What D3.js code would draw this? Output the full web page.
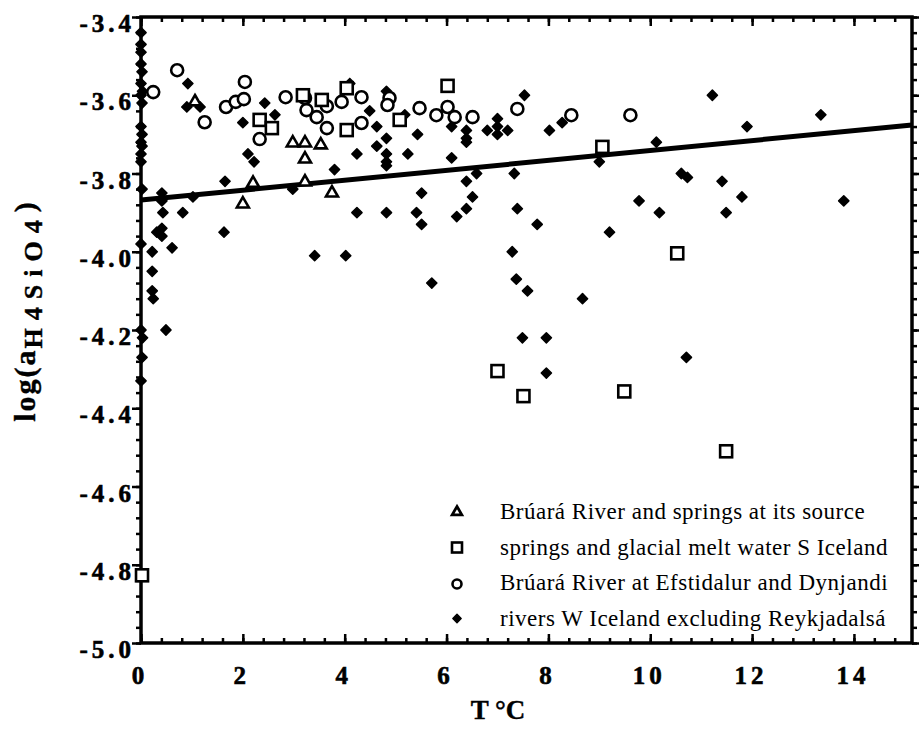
<!DOCTYPE html>
<html>
<head>
<meta charset="utf-8">
<style>
    body { margin: 0; background: #fff; }
    text { font-family: "Liberation Serif", "Times New Roman", serif; fill: #000; }
</style>
</head>
<body>
<svg id="chart" width="919" height="729"></svg>
<script src="https://cdn.jsdelivr.net/npm/d3@7"></script>
<script>
    // tick labels
    const xTicks = [0, 2, 4, 6, 8, 10, 12, 14]
    const yTicks = [-3.4, -3.6, -3.8, -4.0, -4.2, -4.4, -4.6, -4.8, -5.0]

    // series: [T °C, log(a H4SiO4)]
    const bruaraSprings = [
        [1.06, -3.617], [2.0, -3.878], [2.2, -3.825], [2.98, -3.722], [3.22, -3.722],
        [3.53, -3.727], [3.22, -3.763], [3.22, -3.822], [3.75, -3.85]
    ]
    const glacialSprings = [
        [2.33, -3.663], [2.57, -3.684], [3.18, -3.60], [3.55, -3.612], [4.04, -3.582],
        [4.04, -3.689], [5.08, -3.663], [6.02, -3.576], [9.06, -3.732], [10.53, -4.004],
        [7.0, -4.305], [7.51, -4.369], [9.49, -4.357], [11.49, -4.51], [0.02, -4.827]
    ]
    const efstidalur = [
        [0.71, -3.536], [0.24, -3.592], [1.25, -3.669], [2.04, -3.566], [1.67, -3.63],
        [1.86, -3.617], [2.02, -3.61], [2.33, -3.712], [2.84, -3.605], [3.22, -3.607],
        [3.25, -3.638], [3.45, -3.656], [3.65, -3.628], [3.94, -3.617], [4.33, -3.605],
        [4.33, -3.671], [4.88, -3.607], [4.84, -3.625], [5.47, -3.633], [5.8, -3.651],
        [6.02, -3.63], [6.16, -3.656], [6.51, -3.656], [7.39, -3.635], [8.45, -3.651],
        [9.61, -3.651], [3.65, -3.684]
    ]
    const riversW = [
        [0, -3.44], [0, -3.47], [0, -3.49], [0, -3.52], [0.02, -3.54], [0, -3.57], [0.03, -3.59],
        [0, -3.6], [0.02, -3.62], [0, -3.68], [0.02, -3.7], [0, -3.72], [0.02, -3.73], [0, -3.75],
        [0, -3.77], [0.02, -3.84], [0, -3.98], [0, -4.2], [0.03, -4.22], [0.02, -4.27], [0, -4.33],
        [0.22, -4.0], [0.22, -4.05], [0.22, -4.1], [0.24, -4.12], [0.49, -4.2], [0.61, -3.99],
        [0.41, -3.96], [0.41, -3.85], [0.41, -3.87], [0.43, -3.9], [0.82, -3.9], [0.31, -3.95],
        [0.41, -3.94], [1.02, -3.86], [1.63, -3.95], [3.41, -4.01], [4.02, -4.01], [0.92, -3.57],
        [0.9, -3.63], [1.16, -3.63], [2.0, -3.67], [2.43, -3.62], [2.1, -3.75], [2.22, -3.77],
        [1.65, -3.82], [2.98, -3.84], [2.63, -3.65],
        [4.1, -3.57], [4.49, -3.64], [4.63, -3.68], [4.82, -3.71], [4.63, -3.73], [4.82, -3.75],
        [4.82, -3.77], [4.82, -3.78], [4.24, -3.75], [3.8, -3.79], [5.43, -3.7], [5.24, -3.75],
        [4.82, -3.59], [5.18, -3.65], [6.1, -3.68], [6.1, -3.76], [6.39, -3.69], [6.39, -3.71],
        [6.39, -3.72], [6.8, -3.69], [7.0, -3.66], [7.0, -3.68], [7.0, -3.7], [7.2, -3.69],
        [7.53, -3.6], [8.02, -3.69], [8.27, -3.67], [6.39, -3.82], [6.59, -3.8], [7.33, -3.8],
        [9.0, -3.77], [5.51, -3.85], [6.51, -3.86], [6.39, -3.89], [6.2, -3.91], [5.41, -3.9],
        [5.51, -3.93], [4.82, -3.9], [4.24, -3.9], [7.39, -3.89], [7.78, -3.93], [9.2, -3.95],
        [7.29, -4.0],
        [11.22, -3.6], [13.35, -3.65], [11.9, -3.68], [10.12, -3.72], [10.61, -3.8], [10.73, -3.81],
        [11.41, -3.82], [9.78, -3.87], [10.18, -3.9], [11.8, -3.86], [11.49, -3.9], [13.8, -3.87],
        [7.37, -4.07], [7.59, -4.1], [8.67, -4.12], [7.49, -4.22], [7.96, -4.22], [7.96, -4.31],
        [5.71, -4.08], [10.71, -4.27]
    ]
    // regression line ends
    const fitLine = [[0, -3.868], [15.14, -3.676]]

    const legendLabels = [
        "Brúará River and springs at its source",
        "springs and glacial melt water S Iceland",
        "Brúará River at Efstidalur and Dynjandi",
        "rivers W Iceland excluding Reykjadalsá"
    ]

    let svg = d3.select("#chart")
    let x = d3.scaleLinear().domain([0, 15.14]).range([141, 912])
    let y = d3.scaleLinear().domain([-5.0, -3.4]).range([643, 17])

    let xMinor = d3.range(0, 15.0, 0.4)
    let yMinor = d3.range(0, 41).map(i => -5.0 + i * 0.04)

    function styleAxis(g) {
        g.select(".domain").remove()
        g.selectAll("line").attr("stroke", "black").attr("stroke-width", 2.5)
    }

    // bottom and top: ticks inward
    svg.append("g").attr("transform", "translate(0,643)")
        .call(d3.axisBottom(x).tickValues(xMinor).tickSize(-5).tickFormat("")).call(styleAxis)
    svg.append("g").attr("transform", "translate(0,643)")
        .call(d3.axisBottom(x).tickValues(xTicks).tickSize(-9).tickFormat("")).call(styleAxis)
    svg.append("g").attr("transform", "translate(0,17)")
        .call(d3.axisTop(x).tickValues(xMinor).tickSize(-5).tickFormat("")).call(styleAxis)
    svg.append("g").attr("transform", "translate(0,17)")
        .call(d3.axisTop(x).tickValues(xTicks).tickSize(-9).tickFormat("")).call(styleAxis)

    // left and right: ticks outward
    svg.append("g").attr("transform", "translate(141,0)")
        .call(d3.axisLeft(y).tickValues(yMinor).tickSize(5).tickFormat("")).call(styleAxis)
    svg.append("g").attr("transform", "translate(141,0)")
        .call(d3.axisLeft(y).tickValues(yTicks).tickSize(9).tickFormat("")).call(styleAxis)
    svg.append("g").attr("transform", "translate(912,0)")
        .call(d3.axisRight(y).tickValues(yMinor).tickSize(5).tickFormat("")).call(styleAxis)
    svg.append("g").attr("transform", "translate(912,0)")
        .call(d3.axisRight(y).tickValues(yTicks).tickSize(9).tickFormat("")).call(styleAxis)

    svg.append("rect")
        .attr("x", x(0)).attr("y", y(-3.4))
        .attr("width", x(15.14) - x(0)).attr("height", y(-5.0) - y(-3.4))
        .attr("fill", "none").attr("stroke", "black").attr("stroke-width", 3.5)

    // tick labels
    svg.selectAll(".xl").data(xTicks).enter().append("text")
        .attr("x", d => x(d) - 1).attr("y", 684)
        .attr("text-anchor", "middle")
        .attr("font-size", 25).attr("font-weight", "bold").attr("letter-spacing", 4)
        .attr("stroke", "black").attr("stroke-width", 0.6)
        .text(d => d)
    svg.selectAll(".yl").data(yTicks).enter().append("text")
        .attr("x", 135).attr("y", d => y(d) + 15)
        .attr("text-anchor", "end")
        .attr("font-size", 25).attr("font-weight", "bold").attr("letter-spacing", 4)
        .attr("stroke", "black").attr("stroke-width", 0.6)
        .text(d => d.toFixed(1))

    // axis titles
    svg.append("text")
        .attr("x", 498).attr("y", 719).attr("text-anchor", "middle")
        .attr("font-size", 27).attr("font-weight", "bold")
        .attr("stroke", "black").attr("stroke-width", 0.4)
        .text("T °C")

    let yt = svg.append("text")
        .attr("transform", "translate(35,312) rotate(-90)")
        .attr("text-anchor", "middle")
        .attr("font-weight", "bold").attr("font-size", 30)
        .attr("stroke", "black").attr("stroke-width", 0.4)
    yt.append("tspan").attr("letter-spacing", 2).text("log(a")
    yt.append("tspan").attr("font-size", 26).attr("dy", 7).attr("letter-spacing", 8).text("H4SiO4")
    yt.append("tspan").attr("dy", -7).text(")")

    // regression line
    svg.append("path")
        .datum(fitLine)
        .attr("d", d3.line().x(d => x(d[0])).y(d => y(d[1])))
        .attr("stroke", "black").attr("stroke-width", 5).attr("fill", "none")

    let sym = (type, size) => d3.symbol().type(type).size(size)()

    // markers
    svg.append("g").selectAll("path").data(riversW).enter().append("path")
        .attr("d", sym(d3.symbolSquare, 52))
        .attr("transform", d => `translate(${x(d[0])},${y(d[1])}) rotate(45)`)
        .attr("fill", "black").attr("stroke", "black").attr("stroke-width", 1.5)
        .attr("stroke-linejoin", "round")

    svg.append("g").selectAll("path").data(efstidalur).enter().append("circle")
        .attr("cx", d => x(d[0])).attr("cy", d => y(d[1])).attr("r", 6)
        .attr("fill", "white").attr("stroke", "black").attr("stroke-width", 2.6)

    svg.append("g").selectAll("rect").data(glacialSprings).enter().append("rect")
        .attr("x", d => x(d[0]) - 6).attr("y", d => y(d[1]) - 6)
        .attr("width", 12).attr("height", 12)
        .attr("fill", "white").attr("stroke", "black").attr("stroke-width", 2.6)

    svg.append("g").selectAll("path").data(bruaraSprings).enter().append("path")
        .attr("d", sym(d3.symbolTriangle, 62))
        .attr("transform", d => `translate(${x(d[0])},${y(d[1])})`)
        .attr("fill", "white").attr("stroke", "black").attr("stroke-width", 2.6)

    // legend
    let legend = svg.append("g")
    let rowY = i => 512 + i * 35.5
    legend.append("path").attr("d", sym(d3.symbolTriangle, 40))
        .attr("transform", `translate(457,${rowY(0)})`)
        .attr("fill", "white").attr("stroke", "black").attr("stroke-width", 2.8)
    legend.append("rect").attr("x", 452).attr("y", rowY(1) - 5).attr("width", 10).attr("height", 10)
        .attr("fill", "white").attr("stroke", "black").attr("stroke-width", 2.6)
    legend.append("circle").attr("cx", 457).attr("cy", rowY(2) + 1).attr("r", 4.5)
        .attr("fill", "white").attr("stroke", "black").attr("stroke-width", 2.6)
    legend.append("path").attr("d", sym(d3.symbolSquare, 34))
        .attr("transform", `translate(457,${rowY(3)}) rotate(45)`)
        .attr("fill", "black").attr("stroke", "black").attr("stroke-width", 1.5)
        .attr("stroke-linejoin", "round")

    legend.selectAll("text").data(legendLabels).enter().append("text")
        .attr("x", 500).attr("y", (d, i) => rowY(i) + 7)
        .attr("font-size", 23).attr("letter-spacing", 0.5)
        .text(d => d)
</script>
</body>
</html>
